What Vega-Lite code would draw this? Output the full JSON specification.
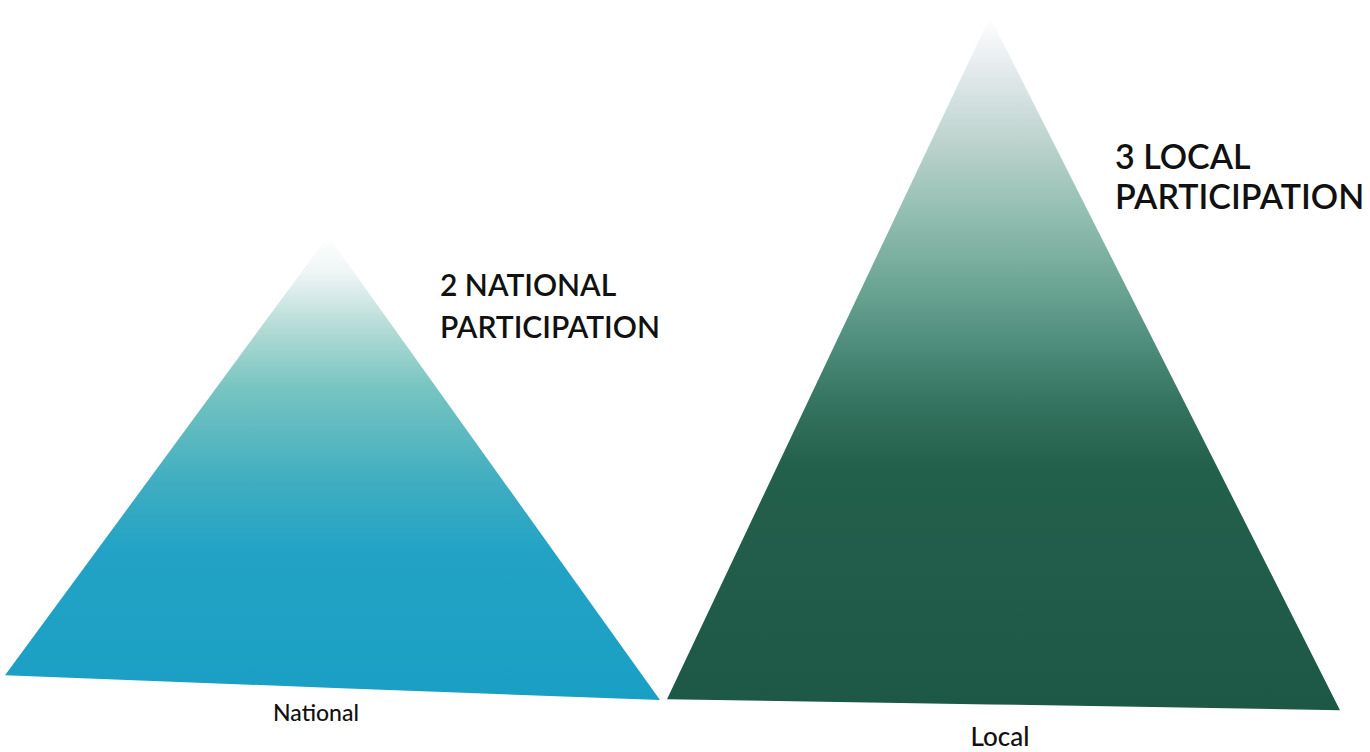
{
  "$schema": "https://vega.github.io/schema/vega-lite/v6.json",
  "width": 1370,
  "height": 752,
  "autosize": {"type": "fit", "contains": "padding"},
  "padding": 0,
  "background": "#ffffff",
  "config": {"view": {"stroke": null}},
  "datasets": {
    "tri": [
      {"level": "National", "x": 5, "top": 0.084, "base": 0.084},
      {"level": "National", "x": 328, "top": 2.03, "base": 0.029},
      {"level": "National", "x": 660, "top": -0.026, "base": -0.026},
      {"level": "Local", "x": 667, "top": -0.022, "base": -0.022},
      {"level": "Local", "x": 990, "top": 3.0, "base": -0.045},
      {"level": "Local", "x": 1340, "top": -0.071, "base": -0.071}
    ],
    "labels": [
      {"level": "National", "label": "National", "x": 316, "y": -0.088},
      {"level": "Local", "label": "Local", "x": 1000, "y": -0.195}
    ],
    "notes": [
      {"level": "National", "note": "2 NATIONAL\nPARTICIPATION", "x": 440, "y": 1.87},
      {"level": "Local", "note": "3 LOCAL\nPARTICIPATION", "x": 1115, "y": 2.445}
    ]
  },
  "layer": [
    {
      "data": {"name": "tri"},
      "transform": [{"filter": "datum.level === 'National'"}],
      "mark": {
        "type": "area",
        "fill": {
          "gradient": "linear", "x1": 0, "y1": 0, "x2": 0, "y2": 1,
          "stops": [
            {"offset": 0, "color": "#ffffff"},
            {"offset": 0.08, "color": "#eef5f5"},
            {"offset": 0.2, "color": "#b3dbd6"},
            {"offset": 0.33, "color": "#76c4c0"},
            {"offset": 0.53, "color": "#40adc1"},
            {"offset": 0.68, "color": "#22a3c5"},
            {"offset": 1, "color": "#1a9fc4"}
          ]
        }
      },
      "encoding": {
        "x": {"field": "x", "type": "quantitative", "scale": {"domain": [0, 1370], "nice": false, "zero": false}, "axis": null},
        "y": {"field": "top", "type": "quantitative", "scale": {"domain": [-0.2426, 3.075], "nice": false, "zero": false}, "axis": null},
        "y2": {"field": "base"}
      }
    },
    {
      "data": {"name": "tri"},
      "transform": [{"filter": "datum.level === 'Local'"}],
      "mark": {
        "type": "area",
        "fill": {
          "gradient": "linear", "x1": 0, "y1": 0, "x2": 0, "y2": 1,
          "stops": [
            {"offset": 0, "color": "#ffffff"},
            {"offset": 0.07, "color": "#e6ecee"},
            {"offset": 0.17, "color": "#c0d5d0"},
            {"offset": 0.28, "color": "#94bfb3"},
            {"offset": 0.38, "color": "#6fa796"},
            {"offset": 0.46, "color": "#52907f"},
            {"offset": 0.56, "color": "#34735f"},
            {"offset": 0.65, "color": "#23604c"},
            {"offset": 1, "color": "#1d5846"}
          ]
        }
      },
      "encoding": {
        "x": {"field": "x", "type": "quantitative", "axis": null},
        "y": {"field": "top", "type": "quantitative", "axis": null},
        "y2": {"field": "base"}
      }
    },
    {
      "data": {"name": "labels"},
      "transform": [{"filter": "datum.level === 'National'"}],
      "mark": {"type": "text", "font": "Lato", "fontWeight": 500, "fontSize": 23, "color": "#111111", "align": "center", "baseline": "middle"},
      "encoding": {
        "x": {"field": "x", "type": "quantitative", "axis": null},
        "y": {"field": "y", "type": "quantitative", "axis": null},
        "text": {"field": "label"}
      }
    },
    {
      "data": {"name": "labels"},
      "transform": [{"filter": "datum.level === 'Local'"}],
      "mark": {"type": "text", "font": "Lato", "fontWeight": 500, "fontSize": 26, "color": "#111111", "align": "center", "baseline": "middle"},
      "encoding": {
        "x": {"field": "x", "type": "quantitative", "axis": null},
        "y": {"field": "y", "type": "quantitative", "axis": null},
        "text": {"field": "label"}
      }
    },
    {
      "data": {"name": "notes"},
      "transform": [{"filter": "datum.level === 'National'"}],
      "mark": {"type": "text", "font": "Lato", "fontWeight": 600, "fontSize": 30, "lineHeight": 42, "lineBreak": "\n", "color": "#111111", "align": "left", "baseline": "top"},
      "encoding": {
        "x": {"field": "x", "type": "quantitative", "axis": null},
        "y": {"field": "y", "type": "quantitative", "axis": null},
        "text": {"field": "note"}
      }
    },
    {
      "data": {"name": "notes"},
      "transform": [{"filter": "datum.level === 'Local'"}],
      "mark": {"type": "text", "font": "Lato", "fontWeight": 600, "fontSize": 34, "lineHeight": 40, "lineBreak": "\n", "color": "#111111", "align": "left", "baseline": "top"},
      "encoding": {
        "x": {"field": "x", "type": "quantitative", "axis": null},
        "y": {"field": "y", "type": "quantitative", "axis": null},
        "text": {"field": "note"}
      }
    }
  ]
}
